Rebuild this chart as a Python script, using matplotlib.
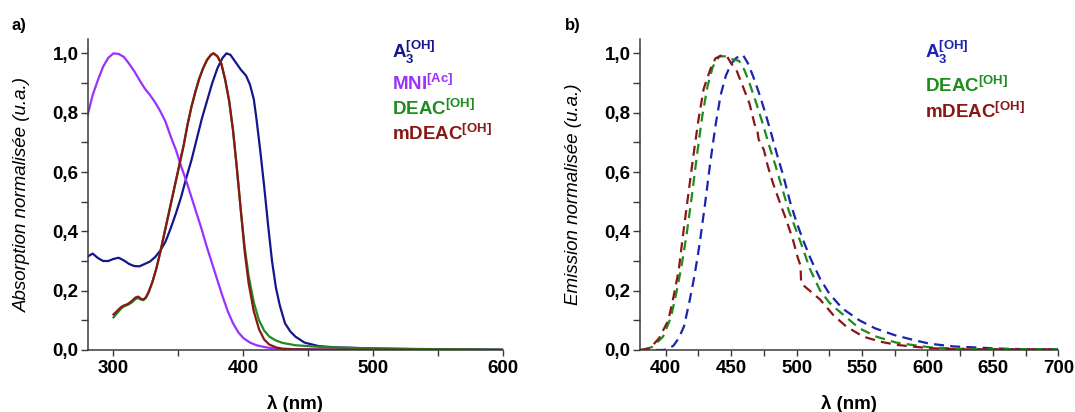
import matplotlib
matplotlib.use("Agg")
import matplotlib.pyplot as plt
from matplotlib.ticker import MultipleLocator, FuncFormatter

# absorption spectra (a)
wl_a3_abs = [280, 284, 288, 292, 296, 300, 304, 308, 312, 316, 320, 324, 328, 332, 336,
             340, 344, 348, 352, 356, 360, 364, 368, 372, 376, 380, 384, 387, 390, 394,
             398, 402, 405, 408, 410, 413, 416, 419, 422, 425, 428, 432, 436, 440, 447,
             458, 470, 480, 500, 550, 600]
a3_abs = [0.315, 0.325, 0.31, 0.30, 0.30, 0.307, 0.311, 0.302, 0.29, 0.283, 0.282, 0.29,
          0.298, 0.313, 0.335, 0.365, 0.41, 0.46, 0.515, 0.58, 0.64, 0.71, 0.78, 0.84,
          0.9, 0.95, 0.985, 1.0, 0.995, 0.97, 0.945, 0.925, 0.895, 0.845, 0.78, 0.67,
          0.55, 0.42, 0.30, 0.21, 0.15, 0.09, 0.063, 0.045, 0.025, 0.013, 0.009, 0.008,
          0.005, 0.002, 0.001]

wl_mni_abs = [280, 284, 288, 292, 296, 300, 304, 308, 312, 316, 320, 324, 328, 332, 336,
              340, 344, 348, 352, 356, 360, 364, 368, 372, 376, 380, 384, 388, 392, 396,
              400, 405, 410, 415, 420, 425, 430, 440, 460, 500, 600]
mni_abs = [0.79, 0.86, 0.91, 0.955, 0.985, 1.0, 0.998, 0.988, 0.965, 0.94, 0.91, 0.882,
           0.86, 0.835, 0.805, 0.77, 0.72, 0.675, 0.62, 0.57, 0.515, 0.46, 0.405, 0.345,
           0.29, 0.235, 0.18, 0.13, 0.09, 0.06, 0.04, 0.025, 0.016, 0.011, 0.007, 0.005,
           0.004, 0.003, 0.002, 0.001, 0.0]

wl_deac_abs = [300, 302, 304, 306, 308, 311, 314, 317, 319, 321, 323, 325, 327, 330, 333,
               336, 339, 342, 345, 348, 351, 354, 357, 360, 363, 366, 369, 372, 375, 377,
               380, 383, 386, 389, 392, 395, 398, 401, 404, 408, 412, 416, 420, 425, 430,
               440, 460, 480, 520, 600]
deac_abs = [0.11, 0.12, 0.13, 0.14, 0.147, 0.152, 0.16, 0.172, 0.175, 0.17, 0.168, 0.176,
            0.194, 0.23, 0.275, 0.33, 0.39, 0.45, 0.51, 0.57, 0.63, 0.69, 0.76, 0.82,
            0.87, 0.915, 0.95, 0.978, 0.995, 1.0, 0.99, 0.965, 0.91, 0.84, 0.74, 0.61,
            0.47, 0.345, 0.25, 0.16, 0.10, 0.065, 0.045, 0.032, 0.024, 0.016, 0.01,
            0.007, 0.004, 0.001]

wl_mdeac_abs = [300, 302, 304, 306, 308, 311, 314, 317, 319, 321, 323, 325, 327, 330, 333,
                336, 339, 342, 345, 348, 351, 354, 357, 360, 363, 366, 369, 372, 375, 377,
                380, 383, 386, 389, 392, 395, 398, 401, 404, 408, 412, 416, 420, 425, 430,
                440, 460, 600]
mdeac_abs = [0.12, 0.128, 0.137, 0.145, 0.15, 0.155, 0.165, 0.177, 0.18, 0.173, 0.17,
             0.178, 0.195, 0.23, 0.275, 0.33, 0.39, 0.45, 0.51, 0.57, 0.63, 0.69, 0.76,
             0.82, 0.87, 0.915, 0.95, 0.978, 0.995, 1.0, 0.99, 0.965, 0.91, 0.84, 0.74,
             0.61, 0.47, 0.33, 0.225, 0.13, 0.07, 0.035, 0.018, 0.009, 0.004, 0.002,
             0.001, 0.0]

# emission spectra (b)
wl_a3_em = [380, 390, 398, 402, 406, 410, 414, 418, 422, 426, 430, 434, 438, 442, 446,
            450, 454, 459, 463, 467, 471, 475, 480, 485, 490, 495, 500, 505, 511, 518,
            525, 535, 548, 560, 575, 590, 602, 620, 635, 653, 680, 700]
a3_em = [0, 0, 0, 0.004, 0.015, 0.04, 0.08, 0.16, 0.25, 0.36, 0.49, 0.63, 0.755, 0.86,
         0.925, 0.965, 0.985, 0.995, 0.965, 0.92, 0.87, 0.815, 0.74, 0.66, 0.585, 0.5,
         0.43, 0.37, 0.305, 0.24, 0.19, 0.14, 0.1, 0.073, 0.05, 0.033, 0.021, 0.012,
         0.009, 0.005, 0.002, 0.002]

wl_deac_em = [383, 390, 398, 404, 408, 412, 416, 420, 424, 428, 432, 436, 441, 446, 451,
              456, 460, 464, 469, 474, 479, 484, 489, 494, 500, 505, 510, 518, 525, 530,
              538, 548, 561, 576, 590, 602, 620, 640, 665, 700]
deac_em = [0, 0.011, 0.045, 0.11, 0.19, 0.28, 0.39, 0.52, 0.66, 0.79, 0.89, 0.955, 0.99,
           0.99, 0.98, 0.975, 0.945, 0.9, 0.835, 0.765, 0.69, 0.62, 0.545, 0.47, 0.4,
           0.34, 0.275, 0.2, 0.16, 0.14, 0.11, 0.073, 0.045, 0.025, 0.016, 0.009, 0.0045,
           0.003, 0.003, 0.003]

wl_mdeac_em = [380, 388, 395, 402, 406, 410, 413, 417, 421, 425, 429, 434, 438, 443, 447,
               450, 454, 459, 464, 468, 470, 471, 475, 478, 482, 487, 492, 497, 501, 503,
               503.5, 506, 510, 518, 528, 538, 551, 564, 577, 590, 602, 628, 653, 679, 700]
mdeac_em = [0, 0.006, 0.04, 0.1, 0.18, 0.27, 0.38, 0.515, 0.65, 0.775, 0.88, 0.945, 0.983,
            0.994, 0.989, 0.966, 0.944, 0.888, 0.831, 0.76, 0.74, 0.71, 0.675, 0.62, 0.562,
            0.5, 0.44, 0.375, 0.31, 0.285, 0.225, 0.215, 0.2, 0.17, 0.118, 0.079, 0.045,
            0.028, 0.017, 0.011, 0.006, 0.002, 0.002, 0.002, 0.002]

BLUE = "#15158c"
BLUE_EM = "#1a24b0"
PURPLE = "#9b30ff"
GREEN = "#1e8c1e"
RED = "#8b1616"

plt.rcParams["font.family"] = ["Liberation Sans", "DejaVu Sans"]
plt.rcParams["mathtext.fontset"] = "custom"
plt.rcParams["mathtext.bf"] = "Liberation Sans:bold"
plt.rcParams["mathtext.rm"] = "Liberation Sans"

fig = plt.figure(figsize=(10.75, 4.12), dpi=100)
ax1 = fig.add_axes([0.0814, 0.1505, 0.3868, 0.756])
ax2 = fig.add_axes([0.5949, 0.1505, 0.3896, 0.756])

comma = FuncFormatter(lambda v, p: f"{v:.1f}".replace(".", ","))
ax1.set_xlim(280, 600)
ax1.xaxis.set_major_locator(MultipleLocator(100))
ax1.xaxis.set_minor_locator(MultipleLocator(50))
ax2.set_xlim(380, 700)
ax2.xaxis.set_major_locator(MultipleLocator(50))
ax2.xaxis.set_minor_locator(MultipleLocator(25))

for ax in (ax1, ax2):
    ax.set_ylim(0, 1.05)
    ax.yaxis.set_major_locator(MultipleLocator(0.2))
    ax.yaxis.set_minor_locator(MultipleLocator(0.1))
    ax.yaxis.set_major_formatter(comma)
    for s in ("top", "right"):
        ax.spines[s].set_visible(False)
    for s in ("left", "bottom"):
        ax.spines[s].set_color("#3a3a3a")
        ax.spines[s].set_linewidth(1.1)
    ax.tick_params(which="both", direction="out", length=4, width=1.0, color="#3a3a3a")
    ax.tick_params(axis="y", which="both", length=5, pad=1.5)
    ax.tick_params(labelsize=13.5)
    for lab in ax.get_xticklabels() + ax.get_yticklabels():
        lab.set_fontweight("bold")
    ax.set_xlabel("λ (nm)", fontsize=13.5, fontweight="bold")
    ax.xaxis.set_label_coords(0.5, -0.145)

lw = 1.6
ax1.plot(wl_a3_abs, a3_abs, color=BLUE, lw=lw)
ax1.plot(wl_mni_abs, mni_abs, color=PURPLE, lw=lw)
ax1.plot(wl_deac_abs, deac_abs, color=GREEN, lw=lw)
ax1.plot(wl_mdeac_abs, mdeac_abs, color=RED, lw=lw)

dash = (0, (4.5, 2.8))
ax2.plot(wl_a3_em, a3_em, color=BLUE_EM, lw=lw, ls=dash)
ax2.plot(wl_deac_em, deac_em, color=GREEN, lw=lw, ls=dash)
ax2.plot(wl_mdeac_em, mdeac_em, color=RED, lw=lw, ls=dash)

ax1.set_ylabel("Absorption normalisée (u.a.)", fontsize=13.5, style="italic")
ax1.yaxis.set_label_coords(-0.135, 0.5)
ax2.set_ylabel("Emission normalisée (u.a.)", fontsize=13.5, style="italic")
ax2.yaxis.set_label_coords(-0.137, 0.5)

leg_fs = 13.5
labels_a = [(r"$\mathbf{A}_{\mathbf{3}}^{\mathbf{[OH]}}$", BLUE, 0.984),
            (r"$\mathbf{MNI}^{\mathbf{[Ac]}}$", PURPLE, 0.876),
            (r"$\mathbf{DEAC}^{\mathbf{[OH]}}$", GREEN, 0.792),
            (r"$\mathbf{mDEAC}^{\mathbf{[OH]}}$", RED, 0.708)]
for txt, col, y in labels_a:
    ax1.text(514, y, txt, color=col, fontsize=leg_fs, va="baseline", ha="left")

labels_b = [(r"$\mathbf{A}_{\mathbf{3}}^{\mathbf{[OH]}}$", BLUE_EM, 0.984),
            (r"$\mathbf{DEAC}^{\mathbf{[OH]}}$", GREEN, 0.87),
            (r"$\mathbf{mDEAC}^{\mathbf{[OH]}}$", RED, 0.782)]
for txt, col, y in labels_b:
    ax2.text(598, y, txt, color=col, fontsize=leg_fs, va="baseline", ha="left")

fig.text(12 / 1075, 1 - 30 / 412, "a)", fontsize=12, fontweight="bold", va="baseline")
fig.text(565 / 1075, 1 - 30 / 412, "b)", fontsize=12, fontweight="bold", va="baseline")

fig.savefig("out.png", dpi=100)
